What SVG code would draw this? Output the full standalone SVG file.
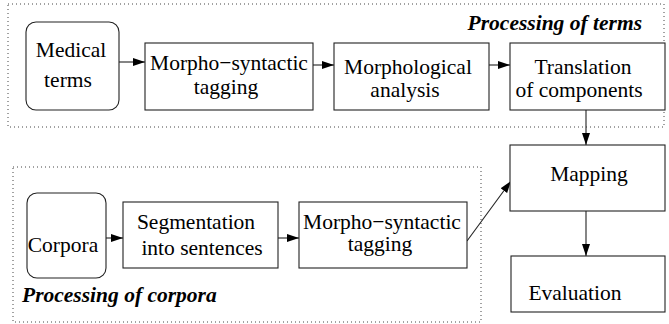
<svg xmlns="http://www.w3.org/2000/svg" width="669" height="324" viewBox="0 0 669 324">
  <style>
    .box { fill: #fff; stroke: #222; stroke-width: 1.1; }
    .grp { fill: none; stroke: #444; stroke-width: 1; stroke-dasharray: 1 3; }
    .lbl { font-size: 21.5px; fill: #000; text-anchor: middle; }
    .ttl { font-size: 21.5px; font-weight: bold; font-style: italic; fill: #000; }
    .edge { fill: none; stroke: #222; stroke-width: 1.1; marker-end: url(#head); }
  </style>
  <defs>
    <marker id="head" markerUnits="userSpaceOnUse" markerWidth="13" markerHeight="9" refX="12" refY="4" orient="auto">
      <path d="M0,0 L12,4 L0,8 Z" fill="#000"/>
    </marker>
  </defs>
  <rect width="669" height="324" fill="#fff"/>

  <g font-family="Liberation Serif, DejaVu Serif, serif">
  <!-- processing groups -->
  <g id="group-terms">
    <rect class="grp" x="8" y="4" width="656" height="123"/>
    <text class="ttl" x="642" y="30" text-anchor="end">Processing of terms</text>
  </g>
  <g id="group-corpora">
    <rect class="grp" x="13" y="167" width="468" height="155"/>
    <text class="ttl" x="22" y="302">Processing of corpora</text>
  </g>

  <!-- connectors -->
  <g id="connectors">
    <line class="edge" x1="119" y1="62" x2="145" y2="62"/>
    <line class="edge" x1="313" y1="65" x2="334" y2="65"/>
    <line class="edge" x1="489" y1="65" x2="510" y2="65"/>
    <line class="edge" x1="586" y1="110" x2="586" y2="145"/>
    <line class="edge" x1="106" y1="238" x2="123" y2="238"/>
    <line class="edge" x1="278" y1="238" x2="299" y2="238"/>
    <line class="edge" x1="467" y1="241" x2="511" y2="181"/>
    <line class="edge" x1="586" y1="211" x2="586" y2="256"/>
  </g>

  <!-- nodes -->
  <g id="medical-terms">
    <rect class="box" x="26" y="22" width="93" height="88" rx="10" ry="10"/>
    <text class="lbl" x="71" y="57">Medical</text>
    <text class="lbl" x="68" y="87">terms</text>
  </g>
  <g id="term-tagging">
    <rect class="box" x="145" y="43" width="168" height="67"/>
    <text class="lbl" x="229" y="70">Morpho−syntactic</text>
    <text class="lbl" x="226" y="94">tagging</text>
  </g>
  <g id="morph-analysis">
    <rect class="box" x="334" y="43" width="155" height="67"/>
    <text class="lbl" x="408" y="74">Morphological</text>
    <text class="lbl" x="405" y="97">analysis</text>
  </g>
  <g id="translation">
    <rect class="box" x="510" y="43" width="155" height="67"/>
    <text class="lbl" x="583" y="74">Translation</text>
    <text class="lbl" x="579" y="97">of components</text>
  </g>
  <g id="mapping">
    <rect class="box" x="510" y="145" width="155" height="66"/>
    <text class="lbl" x="589" y="181">Mapping</text>
  </g>
  <g id="evaluation">
    <rect class="box" x="511" y="256" width="154" height="56"/>
    <text class="lbl" x="575" y="300">Evaluation</text>
  </g>
  <g id="corpora">
    <rect class="box" x="27" y="193" width="79" height="85" rx="10" ry="10"/>
    <text class="lbl" x="63" y="252">Corpora</text>
  </g>
  <g id="segmentation">
    <rect class="box" x="123" y="202" width="155" height="66"/>
    <text class="lbl" x="196" y="229">Segmentation</text>
    <text class="lbl" x="202" y="255">into sentences</text>
  </g>
  <g id="corpus-tagging">
    <rect class="box" x="299" y="202" width="168" height="66"/>
    <text class="lbl" x="382" y="229">Morpho−syntactic</text>
    <text class="lbl" x="380" y="251">tagging</text>
  </g>
  </g>
</svg>
